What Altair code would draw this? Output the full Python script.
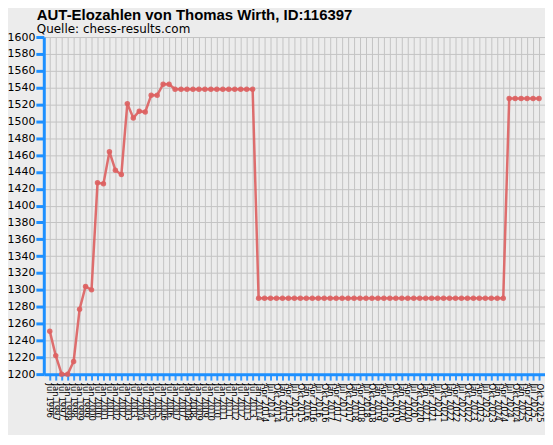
import altair as alt
import pandas as pd

# Rating list dates (semi-annual until 2013, then quarterly)
dates = []
for y in range(1996, 2014):
    for m in (["Jan", "Jul"] if y > 1996 else ["Jul"]):
        dates.append(f"{m} {y}")
for y in range(2014, 2026):
    for m in ["Jan", "Apr", "Jul", "Okt"]:
        dates.append(f"{m} {y}")

elo = [1251, 1222, 1200, 1200, 1215, 1277, 1304, 1300, 1427, 1426,
       1464, 1442, 1437, 1521, 1504, 1512, 1511, 1531, 1531, 1544,
       1544] + [1538] * 14 + [1290] * 42 + [1527] * 6

df = pd.DataFrame({"Datum": dates, "Elo": elo})

x = alt.X("Datum:N", sort=dates, title=None,
          scale=alt.Scale(type="point", padding=1),
          axis=alt.Axis(labelAngle=90, labelAlign="left", labelBaseline="middle",
                        labelFontSize=8.5, labelFont="DejaVu Sans", labelColor="#000",
                        labelPadding=3, tickColor="#3399ff", tickWidth=2, tickSize=6,
                        domainColor="#1e90ff", domainWidth=3, grid=True,
                        gridColor="#c4c4c4", gridWidth=1, labelOverlap=False))
y = alt.Y("Elo:Q", title=None,
          scale=alt.Scale(domain=[1200, 1600], nice=False, zero=False),
          axis=alt.Axis(values=list(range(1200, 1601, 20)), labelFontSize=11,
                        labelFont="DejaVu Sans", labelColor="#000",
                        tickColor="#1e90ff", tickWidth=3, tickSize=8, labelPadding=1,
                        domainColor="#1e90ff", domainWidth=3, grid=True,
                        gridColor="#c4c4c4", gridWidth=1, format="d"))

base = alt.Chart(df).encode(x=x, y=y)
line = base.mark_line(color="#dd6161", strokeWidth=2.5, opacity=0.9)
pts = base.mark_circle(color="#dd6161", size=30, opacity=0.9)

chart = (line + pts).properties(
    width=504, height=339,
    padding={"left": 36, "top": 28, "right": 0, "bottom": 60},
    autosize=alt.AutoSizeParams(type="none"),
    title=alt.Title("AUT-Elozahlen von Thomas Wirth, ID:116397",
                    subtitle="Quelle: chess-results.com",
                    anchor="start", frame="group", dx=-7, dy=9, offset=5,
                    font="Liberation Sans", fontSize=15, fontWeight="bold",
                    color="#000", subtitleFont="DejaVu Sans",
                    subtitleFontSize=12, subtitleColor="#000", subtitlePadding=1),
).configure(background="#ececec").configure_view(stroke=None, fill="#ececec")

chart.save("out.html", embed_options={"renderer": "svg", "actions": False})
